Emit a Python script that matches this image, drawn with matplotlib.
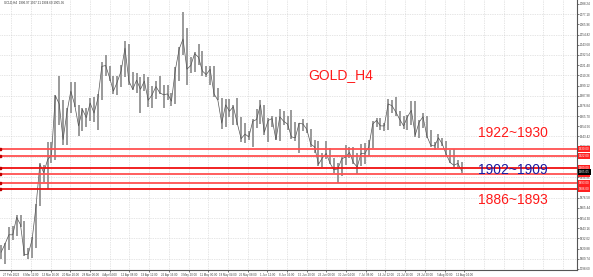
import numpy as np
import matplotlib
matplotlib.use("Agg")
import matplotlib.pyplot as plt
import matplotlib.transforms as mtransforms

plt.rcParams['font.family'] = ['Liberation Sans', 'DejaVu Sans']

# daily ranges of the H4 gold chart (27 Feb 2023 .. 14 Aug 2023)
lows = [1809, 1804, 1819, 1830, 1835, 1845, 1813, 1809, 1811, 1821,
        1867, 1894, 1886, 1914, 1918, 1956, 1934, 1934, 1969, 1976,
        1944, 1949, 1954, 1960, 1959, 1950, 1983, 2010, 2004, 1990,
        1989, 1998, 2008, 2000, 1994, 1991, 1969, 1993, 1976, 1975,
        1984, 1990, 1975, 1983, 1977, 1979, 2004, 2032, 2000, 2013,
        2014, 2022, 2010, 2008, 2000, 1987, 1983, 1952, 1954, 1965,
        1956, 1956, 1937, 1936, 1940, 1932, 1953, 1957, 1945, 1937,
        1954, 1940, 1938, 1956, 1951, 1941, 1939, 1925, 1949, 1947,
        1932, 1925, 1911, 1910, 1919, 1913, 1903, 1893, 1900, 1912,
        1920, 1913, 1902, 1911, 1913, 1922, 1931, 1954, 1950, 1949,
        1951, 1969, 1966, 1955, 1952, 1951, 1956, 1943, 1942, 1953,
        1942, 1932, 1929, 1931, 1933, 1922, 1914, 1910, 1910, 1903]
highs = [1825, 1827, 1845, 1846, 1858, 1858, 1851, 1822, 1834, 1870,
         1914, 1912, 1937, 1937, 1989, 2009, 1983, 1975, 2003, 2003,
         1978, 1975, 1975, 1985, 1987, 1990, 2025, 2032, 2021, 2010,
         2010, 2022, 2048, 2044, 2014, 2013, 2008, 2012, 2008, 1999,
         2004, 2009, 2000, 2000, 1991, 2019, 2041, 2079, 2062, 2030,
         2036, 2044, 2037, 2020, 2021, 2020, 1996, 1985, 1984, 1984,
         1978, 1985, 1965, 1958, 1949, 1962, 1974, 1983, 1978, 1964,
         1966, 1965, 1973, 1971, 1966, 1972, 1959, 1958, 1963, 1958,
         1952, 1940, 1938, 1925, 1938, 1931, 1920, 1914, 1921, 1934,
         1932, 1932, 1925, 1935, 1936, 1940, 1960, 1964, 1964, 1958,
         1984, 1983, 1987, 1971, 1966, 1967, 1982, 1982, 1961, 1969,
         1966, 1950, 1937, 1946, 1942, 1938, 1929, 1930, 1918, 1916]
closes = [1817, 1826, 1836, 1836, 1855, 1847, 1814, 1815, 1831, 1867,
          1913, 1904, 1918, 1923, 1988, 1979, 1940, 1970, 1993, 1978,
          1955, 1973, 1964, 1980, 1969, 1985, 2020, 2021, 2008, 1993,
          2003, 2015, 2040, 2004, 1995, 2005, 1995, 2004, 1983, 1989,
          1998, 1991, 1989, 1990, 1982, 2016, 2039, 2050, 2017, 2021,
          2034, 2030, 2015, 2011, 2017, 1990, 1983, 1958, 1978, 1971,
          1976, 1958, 1941, 1946, 1943, 1960, 1962, 1978, 1948, 1961,
          1963, 1940, 1965, 1960, 1957, 1943, 1942, 1958, 1957, 1951,
          1935, 1932, 1913, 1920, 1925, 1914, 1907, 1908, 1919, 1921,
          1926, 1915, 1910, 1925, 1925, 1932, 1957, 1961, 1955, 1955,
          1979, 1977, 1970, 1962, 1955, 1965, 1972, 1945, 1959, 1965,
          1944, 1934, 1933, 1942, 1935, 1924, 1915, 1912, 1914, 1906]

levels = [1930, 1922, 1909, 1902, 1893, 1886]
level_colors = ['#ff5050', '#ff5050', '#f01010', '#ff5050', '#ff5050', '#f01010']
last_price = 1905.05

date_labels = ["27 Feb 2023", "6 Mar 12:00", "13 Mar 16:00", "20 Mar 20:00",
               "28 Mar 00:00", "4 Apr 04:00", "12 Apr 08:00", "19 Apr 12:00",
               "26 Apr 16:00", "3 May 20:00", "11 May 00:00", "18 May 04:00",
               "25 May 08:00", "1 Jun 12:00", "8 Jun 16:00", "15 Jun 20:00",
               "23 Jun 00:00", "30 Jun 04:00", "7 Jul 08:00", "14 Jul 12:00",
               "21 Jul 16:00", "28 Jul 20:00", "5 Aug 00:00", "12 Aug 04:00"]

price_ticks = [2088.24 - 11.14 * k for k in range(27)]

fig = plt.figure(figsize=(5.93, 2.77), dpi=100)
ax = fig.add_axes([0, 7 / 277, 577 / 593, 270 / 277])

days = np.arange(len(lows))
ax.vlines(days, lows, highs, color='#9a9a9a', lw=1.4)
ax.plot(days, closes, color='#555555', lw=0.5)

ax.set_xlim(-0.3, 148.8)
ax.set_ylim(1797.5, 2092.6)

# grid (dotted, MT4 style)
grid_x = [2.6 + 5.09 * i for i in range(29)]
for gx in grid_x:
    ax.axvline(gx, color='#cccccc', lw=0.5, ls=(0, (1, 1.5)), zorder=0)
for gy in price_ticks[1::2]:
    ax.axhline(gy, color='#cccccc', lw=0.5, ls=(0, (1, 1.5)), zorder=0)

# support / resistance lines
for lv, c in zip(levels, level_colors):
    ax.axhline(lv, color=c, lw=1.3, zorder=3)
    ax.plot([-0.2], [lv], marker='s', ms=1.8, color='#c00000', clip_on=False, zorder=4)

# axis styling
for s in ['left', 'top']:
    ax.spines[s].set_visible(False)
for s in ['right', 'bottom']:
    ax.spines[s].set_color('#555555')
    ax.spines[s].set_linewidth(0.8)
ax.yaxis.tick_right()
ax.set_yticks(price_ticks)
ax.set_yticklabels([f"{v:.2f}" for v in price_ticks])
ax.set_xticks(grid_x[:len(date_labels)])
ax.set_xticklabels(date_labels)
ax.tick_params(axis='y', labelsize=2.2, colors='#444444', length=1.2, width=0.5, pad=0.8)
ax.tick_params(axis='x', labelsize=2.1, colors='#444444', length=1.2, width=0.5, pad=0.8)

# price boxes on the right axis
trans = mtransforms.blended_transform_factory(ax.transAxes, ax.transData)
for lv, c in zip(levels, level_colors):
    ax.text(1.003, lv, f"{lv:.2f}", transform=trans, fontsize=2.2, color='white',
            va='center', ha='left', clip_on=False, zorder=6,
            bbox=dict(boxstyle='square,pad=0.3', fc='#ff2020', ec='none'))
ax.text(1.003, last_price, f"{last_price:.2f}", transform=trans, fontsize=2.2, color='white',
        va='center', ha='left', clip_on=False, zorder=6,
        bbox=dict(boxstyle='square,pad=0.3', fc='black', ec='none'))

# annotations
ax.text(341 / 577, 1 - 75 / 270, "GOLD_H4", transform=ax.transAxes, color='#ff1a1a',
        fontsize=10, ha='center', va='center')
ax.text(478 / 577, 1 - 133 / 270, "1922~1930", transform=ax.transAxes, color='#ff1a1a',
        fontsize=10, ha='left', va='center')
ax.text(478 / 577, 1 - 170 / 270, "1902~1909", transform=ax.transAxes, color='#1a1aa0',
        fontsize=10, ha='left', va='center')
ax.text(478 / 577, 1 - 200 / 270, "1886~1893", transform=ax.transAxes, color='#ff1a1a',
        fontsize=10, ha='left', va='center')

fig.text(4 / 593, 1 - 1 / 277, "GOLD,H4  1906.97 1907.21 1904.60 1905.05",
         fontsize=2.2, color='#333333', ha='left', va='top')

fig.savefig("out.png", dpi=100)
